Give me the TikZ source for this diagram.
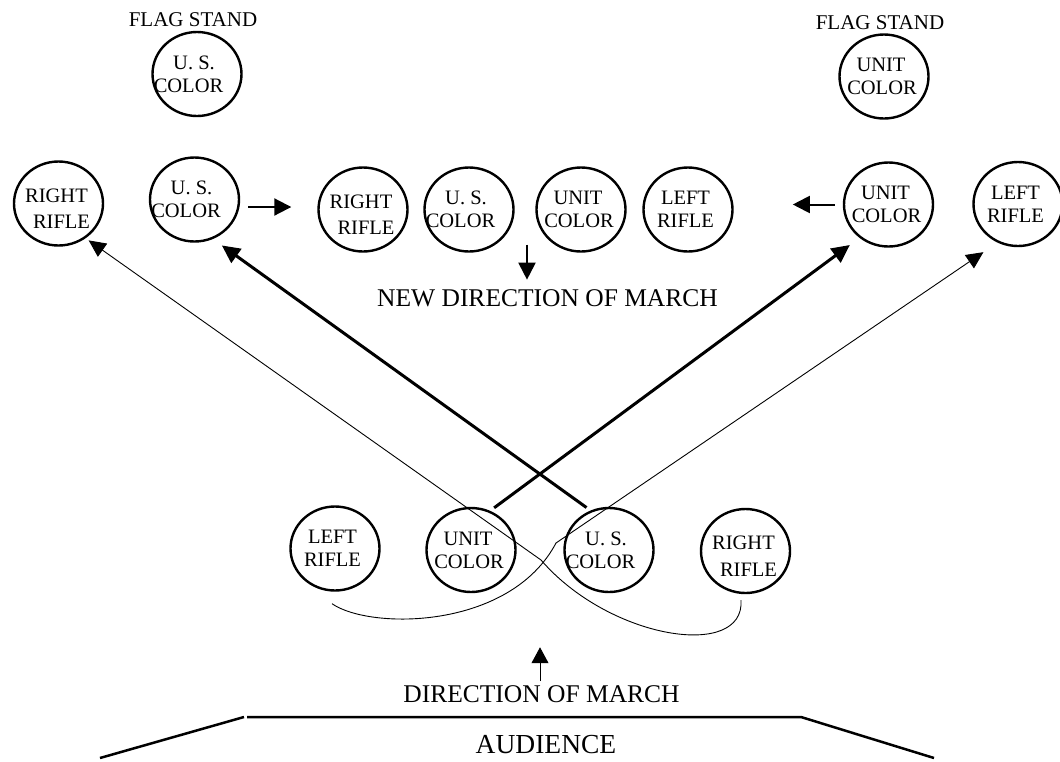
\documentclass[tikz,border=0pt]{standalone}
\usepackage{fontspec}
\setmainfont{Liberation Serif}
\usetikzlibrary{arrows.meta,shapes.geometric,calc}
\begin{document}
\begin{tikzpicture}[x=1pt,y=-1pt,
  ring/.style={ellipse,draw,line width=2.4pt,minimum width=89pt,minimum height=84pt,inner sep=0pt},
  ctext/.style={align=center,inner sep=0pt,font=\fontsize{20.5}{23}\selectfont},
  rtext/.style={align=center,inner sep=0pt,font=\fontsize{20.5}{26.5}\selectfont},
  uscolor/.style={ring,label={[ctext,xshift=-3pt]center:{U. S.\\\hspace*{-11pt}COLOR}}},
  unitcolor/.style={ring,label={[ctext,xshift=-3pt]center:{UNIT\\\hspace*{2pt}COLOR}}},
  rightrifle/.style={ring,label={[rtext,yshift=-5pt]center:{\hspace*{-4pt}RIGHT\\\hspace*{6pt}RIFLE}}},
  leftrifle/.style={ring,label={[ctext,xshift=-2.5pt]center:{LEFT\\RIFLE}}},
  flagtext/.style={inner sep=0pt,font=\fontsize{21}{24}\selectfont},
  bigtext/.style={inner sep=0pt,font=\fontsize{25.5}{28}\selectfont},
  audtext/.style={inner sep=0pt,font=\fontsize{27.5}{30}\selectfont},
  bigarrow/.style={line width=3pt,-{Triangle[length=18pt,width=17pt]}},
  thinarrow/.style={line width=0.9pt,-{Triangle[length=17pt,width=16pt]}},
  shortarrow/.style={line width=2pt,-{Triangle[length=17pt,width=17pt]}},
  uparrow/.style={line width=1pt,-{Triangle[length=16pt,width=17pt]}},
  audline/.style={line width=2.5pt}
]
\useasboundingbox (0,0) rectangle (1060,761);

% flag stands
\node[flagtext] (fs1) at (193,20) {FLAG STAND};
\node[uscolor] (fu) at (197,74) {};
\node[flagtext] (fs2) at (880,22.5) {FLAG STAND};
\node[unitcolor] (fc) at (884,76.5) {};

% top row
\node[rightrifle] (tr) at (58.5,203.5) {};
\node[uscolor] (ts) at (194.5,199.5) {};
\node[rightrifle] (mr) at (363,209.5) {};
\node[uscolor] (ms) at (469,209.5) {};
\node[unitcolor] (mu) at (581,209.5) {};
\node[leftrifle] (ml) at (688,209.5) {};
\node[unitcolor] (tu) at (888.5,204.5) {};
\node[leftrifle] (tl) at (1018,204) {};

\node[bigtext] (nd) at (547.5,298.5) {NEW DIRECTION OF MARCH};

% bottom row
\node[leftrifle] (bl) at (335,548.5) {};
\node[unitcolor] (bu) at (471,550) {};
\node[uscolor] (bs) at (609,550) {};
\node[rightrifle] (br) at (745.5,551) {};

\node[bigtext] (dm) at (541.5,694) {DIRECTION OF MARCH};
\node[audtext] (au) at (546,745) {AUDIENCE};

% short arrows
\draw[shortarrow] ([shift={(8,7.5)}]ts.east) -- ([shift={(-26,-2.5)}]mr.west);
\draw[shortarrow] ([xshift=-8pt]tu.west) -- ++(-42,0);
\draw[shortarrow] ([xshift=-20.5pt,yshift=45pt]nd.north) -- ([xshift=-20.5pt,yshift=10pt]nd.north);
\draw[uparrow] ([xshift=-1.5pt,yshift=4pt]dm.north) -- ([xshift=-1.5pt,yshift=38pt]dm.north);

% thick diagonals
\draw[bigarrow,shorten <=5pt,shorten >=12pt] (bu.64) -- (tu.229);
\draw[bigarrow,shorten <=5pt,shorten >=11pt] (bs.115.5) -- (ts.295);

% thin curved paths
\draw[thinarrow,shorten >=3.7pt] ([shift={(-4.5,6)}]br.south) .. controls (745,660) and (610,640) .. (541,560) -- (tr.308.6);
\draw[thinarrow,shorten >=17pt] ([shift={(-3,12)}]bl.south) .. controls (370,630) and (510,630) .. (556,543) -- (tl.242);

% audience outline
\draw[audline] (100,758) -- (244,717);
\draw[audline] (247,717) -- (801,717) -- (934,758);
\end{tikzpicture}
\end{document}
